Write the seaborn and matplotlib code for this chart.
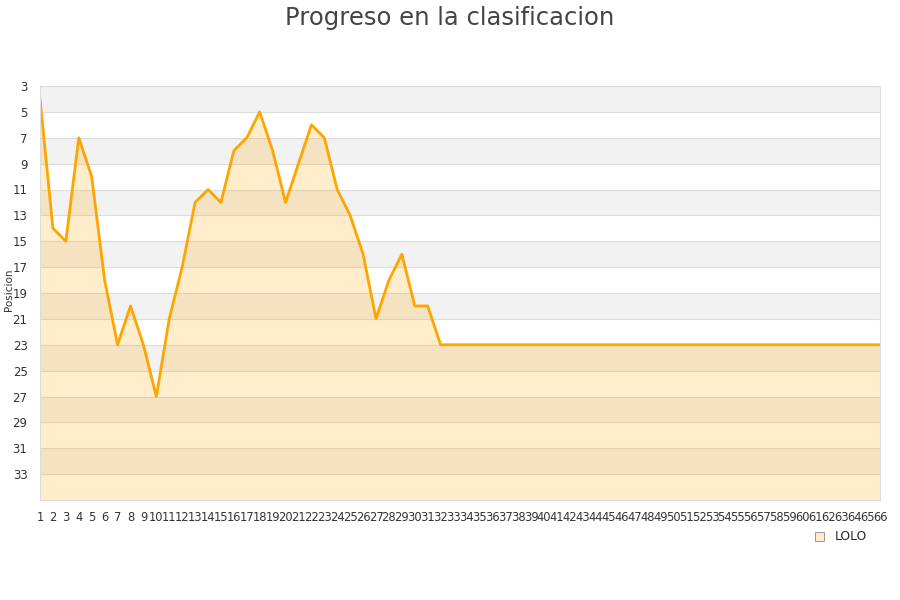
import numpy as np
import pandas as pd
import matplotlib
matplotlib.use('Agg')
import matplotlib.pyplot as plt
from matplotlib.patches import Patch
import seaborn as sns

# Datos: posicion por jornada
jornadas = list(range(1, 67))
posiciones = [4, 14, 15, 7, 10, 18, 23, 20, 23, 27,
              21, 17, 12, 11, 12, 8, 7, 5, 8, 12,
              9, 6, 7, 11, 13, 16, 21, 18, 16, 20,
              20, 23] + [23] * 34
serie = 'LOLO'
y_ticks = list(range(3, 35, 2))

df = pd.DataFrame({'jornada': jornadas, 'posicion': posiciones})

sns.set_style('white')
plt.rcParams['font.family'] = ['DejaVu Sans']

fig = plt.figure(figsize=(9, 6), dpi=100)
ax = fig.add_axes([40 / 900, 1 - 500 / 600, 840 / 900, 414 / 600])

# bandas alternas
for y0 in range(3, 35, 4):
    ax.axhspan(y0, y0 + 2, color='#F2F2F2', zorder=0, lw=0)
for y in y_ticks[1:]:
    ax.axhline(y, color='#DDDDDD', lw=0.8, zorder=0.5)

ax.fill_between(df['jornada'], df['posicion'], 35, color='#FFA500', alpha=0.2, lw=0, zorder=1)
sns.lineplot(data=df, x='jornada', y='posicion', color='#FFA500', lw=2, ax=ax, zorder=2)

ax.set_xlim(1, 66)
ax.set_ylim(35, 3)
ax.set_yticks(y_ticks)
ax.set_yticklabels([str(v) for v in y_ticks], fontsize=8.5, color='#333333')
ax.set_xticks(jornadas)
ax.set_xticklabels([str(v) for v in jornadas], fontsize=8.3, color='#333333')
ax.tick_params(axis='y', length=0, pad=9)
ax.tick_params(axis='x', length=0, pad=8)
ax.set_xlabel('')
ax.set_ylabel('')
for s in ax.spines.values():
    s.set_color('#DDDDDD')
    s.set_linewidth(0.8)

fig.text(9 / 900, 1 - 290 / 600, 'Posicion', rotation=90, fontsize=7.5, color='#333333',
         ha='center', va='center')
fig.suptitle('Progreso en la clasificacion', fontsize=17.5, color='#444444', y=0.99)

ax.legend(handles=[Patch(facecolor='#FFEBCC', edgecolor='#888888', lw=0.6)], labels=[serie],
          loc='center', bbox_to_anchor=(841 / 900, 1 - 537 / 600), bbox_transform=fig.transFigure,
          frameon=False, fontsize=8.8, handlelength=0.7, handleheight=0.7, handletextpad=0.9)

fig.savefig('out.png', dpi=100)
